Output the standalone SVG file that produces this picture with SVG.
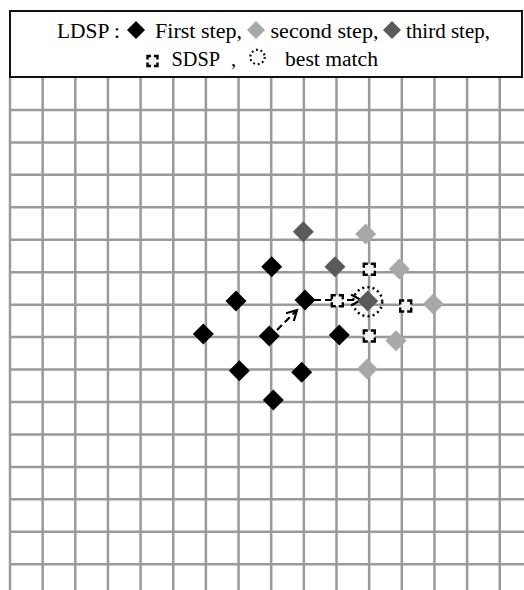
<svg xmlns="http://www.w3.org/2000/svg" xmlns:xlink="http://www.w3.org/1999/xlink" width="524" height="590" viewBox="0 0 524 590">
<style>
.grid{stroke:#9a9a9a;stroke-width:2.5;fill:none}
.box{fill:#fff;stroke:#111;stroke-width:2}
.k{fill:#000}
.lg{fill:#a8a8a8}
.dg{fill:#5a5a5a}
.sq{fill:#f2f2f2;stroke:#000;stroke-width:2.4;stroke-dasharray:8 3;stroke-dashoffset:4}
.sqs{fill:#f2f2f2;stroke:#000;stroke-width:2.4;stroke-dasharray:7 3;stroke-dashoffset:3.5}
.dot{fill:none;stroke:#000;stroke-width:2.5;stroke-dasharray:2 3.2}
.dots{fill:none;stroke:#000;stroke-width:2.2;stroke-dasharray:1.8 2.8}
.conn{stroke:#000;stroke-width:2.2;fill:none;stroke-dasharray:7 4}
.txt{font-family:"Liberation Serif","Times New Roman",serif;font-size:20.5px;fill:#000}
</style>
<defs>
<path id="dia" d="M0,-10.5 L10.5,0 L0,10.5 L-10.5,0Z"/>
<path id="diaS" d="M0,-9 L9,0 L0,9 L-9,0Z"/>
<marker id="chev" markerUnits="userSpaceOnUse" markerWidth="16" markerHeight="16" refX="11" refY="6" orient="auto">
<path d="M1,0.5 L11,6 L1,11.5" fill="none" stroke="#000" stroke-width="2.2" stroke-dasharray="none"/>
</marker>
</defs>
<rect width="524" height="590" fill="#fff"/>
<g id="grid" class="grid">
<path d="M10,77V590M42.65,77V590M75.3,77V590M107.95,77V590M140.6,77V590M173.25,77V590M205.9,77V590M238.55,77V590M271.2,77V590M303.85,77V590M336.5,77V590M369.15,77V590M401.8,77V590M434.45,77V590M467.1,77V590M499.75,77V590"/>
<path d="M10,109.95H524M10,142.4H524M10,174.85H524M10,207.3H524M10,239.75H524M10,272.2H524M10,304.65H524M10,337.1H524M10,369.55H524M10,402H524M10,434.45H524M10,466.9H524M10,499.35H524M10,531.8H524M10,564.25H524"/>
</g>
<g id="legend">
<rect class="box" x="10" y="11" width="512" height="66"/>
<text class="txt" x="57" y="38" textLength="63" lengthAdjust="spacingAndGlyphs">LDSP :</text>
<use href="#diaS" class="k" x="136" y="30"/>
<text class="txt" x="155" y="38" textLength="87" lengthAdjust="spacingAndGlyphs">First step,</text>
<use href="#diaS" class="lg" x="256" y="30"/>
<text class="txt" x="270.5" y="38" textLength="108" lengthAdjust="spacingAndGlyphs">second step,</text>
<use href="#diaS" class="dg" x="392" y="30"/>
<text class="txt" x="406" y="38" textLength="84" lengthAdjust="spacingAndGlyphs">third step,</text>
<rect class="sqs" x="147.5" y="56" width="10" height="10"/>
<text class="txt" x="171.5" y="66" textLength="48.5" lengthAdjust="spacingAndGlyphs">SDSP</text>
<text class="txt" x="231" y="66">,</text>
<circle class="dots" cx="257.5" cy="57" r="7.2"/>
<text class="txt" x="285" y="66" textLength="93" lengthAdjust="spacingAndGlyphs">best match</text>
</g>
<g id="connectors">
<path class="conn" d="M277,330 L297,310" marker-end="url(#chev)"/>
<path class="conn" d="M314,300 L361,300" marker-end="url(#chev)"/>
</g>
<g id="first-step">
<use id="n1" href="#dia" class="k" x="271.7" y="266.7"/>
<use id="n2" href="#dia" class="k" x="236" y="301"/>
<use id="n3" href="#dia" class="k" x="305" y="300"/>
<use id="n4" href="#dia" class="k" x="203.3" y="334"/>
<use id="n5" href="#dia" class="k" x="269.3" y="336"/>
<use id="n6" href="#dia" class="k" x="339.3" y="335"/>
<use id="n7" href="#dia" class="k" x="239.3" y="370.7"/>
<use id="n8" href="#dia" class="k" x="301.7" y="372.3"/>
<use id="n9" href="#dia" class="k" x="273.3" y="400"/>
</g>
<g id="second-step">
<use id="s1" href="#dia" class="lg" x="365.7" y="234"/>
<use id="s2" href="#dia" class="lg" x="399.3" y="269"/>
<use id="s3" href="#dia" class="lg" x="433.3" y="304"/>
<use id="s4" href="#dia" class="lg" x="396" y="340.7"/>
<use id="s5" href="#dia" class="lg" x="367.3" y="369"/>
</g>
<g id="third-step">
<use id="t1" href="#dia" class="dg" x="303.3" y="231.7"/>
<use id="t2" href="#dia" class="dg" x="335" y="266.7"/>
<use id="t3" href="#dia" class="dg" x="367.7" y="301"/>
</g>
<g id="sdsp">
<rect id="q1" class="sq" x="363.8" y="263.8" width="11" height="11"/>
<rect id="q2" class="sq" x="331.8" y="295.2" width="11" height="11"/>
<rect id="q3" class="sq" x="400.2" y="300.5" width="11" height="11"/>
<rect id="q4" class="sq" x="363.8" y="330.5" width="11" height="11"/>
</g>
<g id="best-match">
<circle class="dot" cx="367.7" cy="301.7" r="14.5"/>
</g>
</svg>
